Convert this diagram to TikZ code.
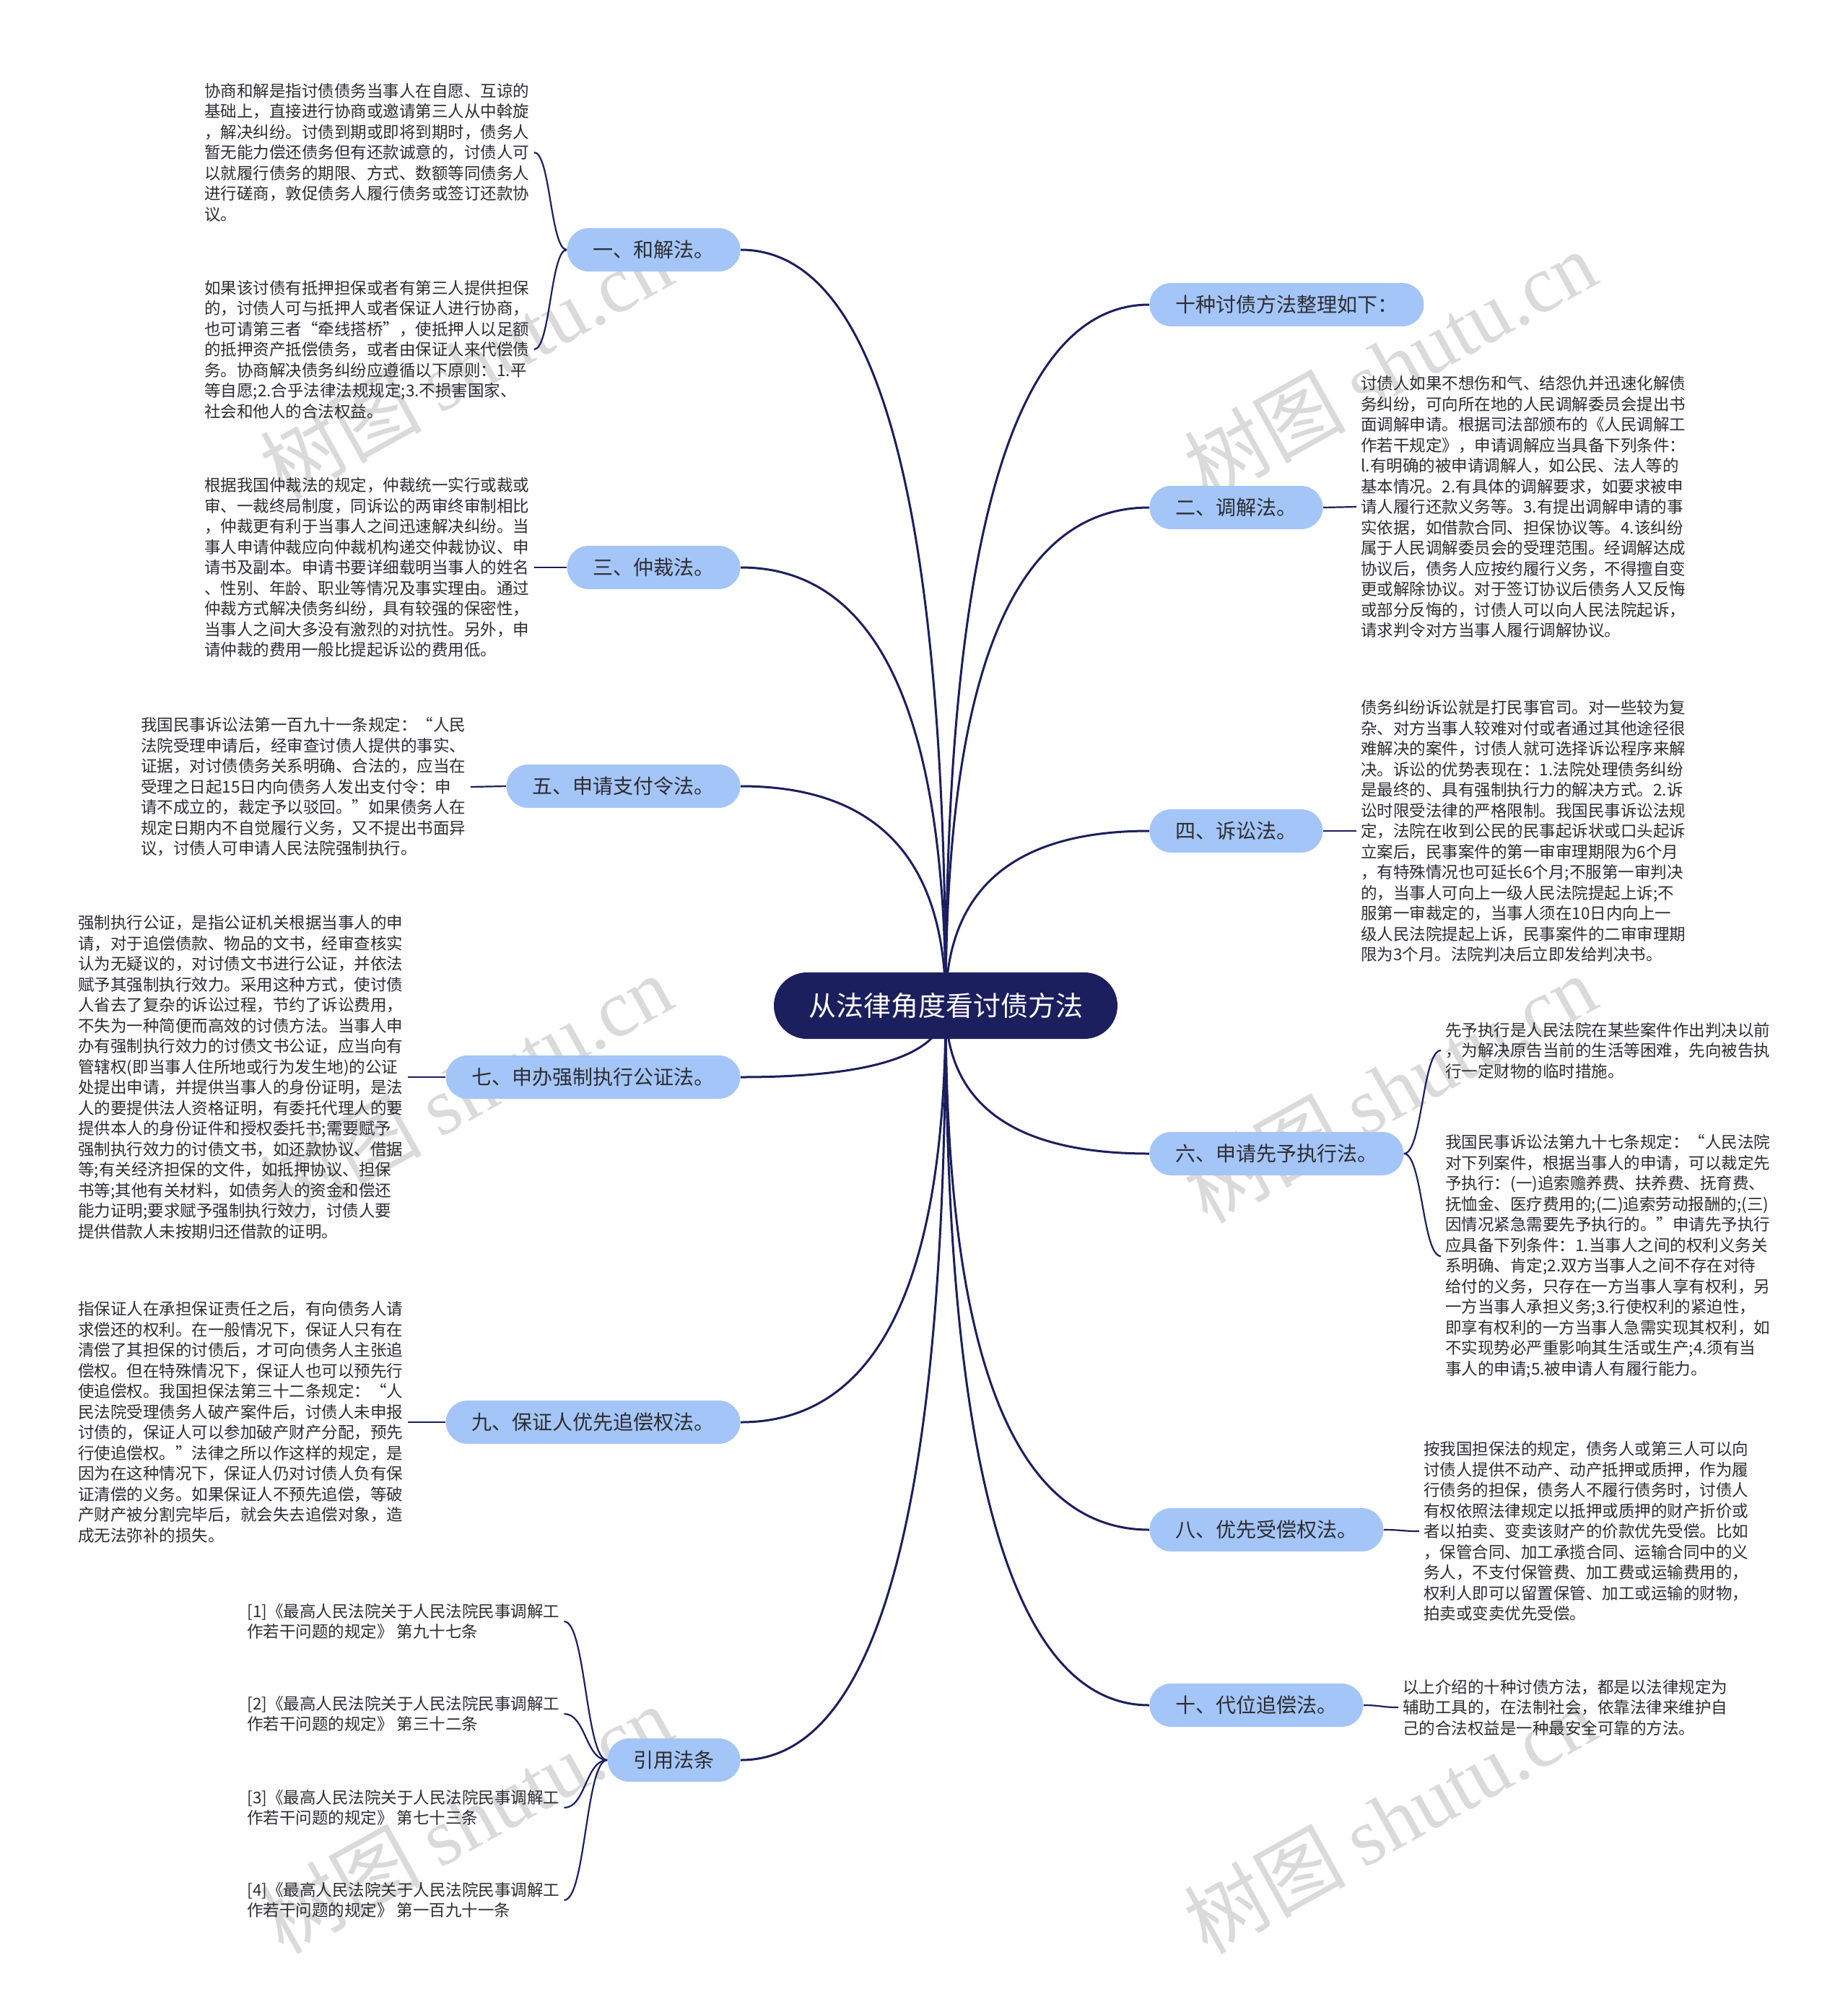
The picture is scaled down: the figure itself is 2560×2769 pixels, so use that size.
\documentclass[tikz,border=0pt]{standalone}
\usepackage{fontspec}
\setmainfont{Noto Sans CJK SC}
\newfontfamily\wmlatin{Liberation Serif}
\usetikzlibrary{calc,backgrounds}

\definecolor{navy}{RGB}{27,31,94}
\definecolor{branchblue}{RGB}{164,197,247}
\definecolor{leaftext}{RGB}{45,45,50}
\definecolor{wmgray}{RGB}{218,218,218}

\tikzset{
  root/.style={fill=navy, text=white, rounded corners=23pt, minimum width=238pt,
    minimum height=46pt, inner sep=0pt, font=\fontsize{19}{19}\selectfont},
  branch/.style={fill=branchblue, text=leaftext, rounded corners=15pt, minimum height=30pt,
    inner xsep=18pt, inner ysep=0pt, font=\fontsize{14}{14}\selectfont},
  leaf/.style={align=left, text=leaftext, inner xsep=3pt, inner ysep=0pt,
    font=\fontsize{11.25}{14.25}\selectfont},
  link/.style={draw=navy, line width=1.5pt},
  sublink/.style={draw=navy, line width=1.1pt},
  wmark/.style={text=wmgray, rotate=29, font=\fontsize{56}{56}\selectfont}
}

\begin{document}
\begin{tikzpicture}[x=0.5pt,y=-0.5pt]
\useasboundingbox (0,0) rectangle (2560,2769);

% fond et filigrane
\begin{pgfonlayer}{background}
\fill[white] (0,0) rectangle (2560,2769);
\foreach \wx in {645,1925}
  \foreach \wy in {505,1508,2520}
    \node[wmark] (wm\wx\wy) at (\wx,\wy) {树图 {\wmlatin shutu.cn}};
\end{pgfonlayer}

% centre
\node[root] (root) at (1310,1393) {从法律角度看讨债方法};

% branches gauche
\node[branch, anchor=east] (hj) at (1026,346) {一、和解法。};
\node[branch, anchor=east] (zc) at (1026,786) {三、仲裁法。};
\node[branch, anchor=east] (zfl) at (1026,1089) {五、申请支付令法。};
\node[branch, anchor=east] (gz) at (1026,1492) {七、申办强制执行公证法。};
\node[branch, anchor=east] (bz) at (1026,1970) {九、保证人优先追偿权法。};
\node[branch, anchor=east] (yy) at (1026,2438) {引用法条};

% branches droite
\node[branch, anchor=west] (zl) at (1592,422) {十种讨债方法整理如下：};
\node[branch, anchor=west] (tj) at (1592,703) {二、调解法。};
\node[branch, anchor=west] (ss) at (1592,1151) {四、诉讼法。};
\node[branch, anchor=west] (xy) at (1592,1598) {六、申请先予执行法。};
\node[branch, anchor=west] (yx) at (1592,2119) {八、优先受偿权法。};
\node[branch, anchor=west] (dw) at (1592,2362) {十、代位追偿法。};

% textes gauche
\node[leaf, anchor=west] (hj1) at (277,211) {协商和解是指讨债债务当事人在自愿、互谅的\\基础上，直接进行协商或邀请第三人从中斡旋\\，解决纠纷。讨债到期或即将到期时，债务人\\暂无能力偿还债务但有还款诚意的，讨债人可\\以就履行债务的期限、方式、数额等同债务人\\进行磋商，敦促债务人履行债务或签订还款协\\议。};
\node[leaf, anchor=west] (hj2) at (277,484) {如果该讨债有抵押担保或者有第三人提供担保\\的，讨债人可与抵押人或者保证人进行协商，\\也可请第三者“牵线搭桥”，使抵押人以足额\\的抵押资产抵偿债务，或者由保证人来代偿债\\务。协商解决债务纠纷应遵循以下原则：1.平\\等自愿;2.合乎法律法规规定;3.不损害国家、\\社会和他人的合法权益。};
\node[leaf, anchor=west] (zc1) at (277,786) {根据我国仲裁法的规定，仲裁统一实行或裁或\\审、一裁终局制度，同诉讼的两审终审制相比\\，仲裁更有利于当事人之间迅速解决纠纷。当\\事人申请仲裁应向仲裁机构递交仲裁协议、申\\请书及副本。申请书要详细载明当事人的姓名\\、性别、年龄、职业等情况及事实理由。通过\\仲裁方式解决债务纠纷，具有较强的保密性，\\当事人之间大多没有激烈的对抗性。另外，申\\请仲裁的费用一般比提起诉讼的费用低。};
\node[leaf, anchor=west] (zfl1) at (189,1090) {我国民事诉讼法第一百九十一条规定：“人民\\法院受理申请后，经审查讨债人提供的事实、\\证据，对讨债债务关系明确、合法的，应当在\\受理之日起15日内向债务人发出支付令：申\\请不成立的，裁定予以驳回。”如果债务人在\\规定日期内不自觉履行义务，又不提出书面异\\议，讨债人可申请人民法院强制执行。};
\node[leaf, anchor=west] (gz1) at (102,1492) {强制执行公证，是指公证机关根据当事人的申\\请，对于追偿债款、物品的文书，经审查核实\\认为无疑议的，对讨债文书进行公证，并依法\\赋予其强制执行效力。采用这种方式，使讨债\\人省去了复杂的诉讼过程，节约了诉讼费用，\\不失为一种简便而高效的讨债方法。当事人申\\办有强制执行效力的讨债文书公证，应当向有\\管辖权(即当事人住所地或行为发生地)的公证\\处提出申请，并提供当事人的身份证明，是法\\人的要提供法人资格证明，有委托代理人的要\\提供本人的身份证件和授权委托书;需要赋予\\强制执行效力的讨债文书，如还款协议、借据\\等;有关经济担保的文件，如抵押协议、担保\\书等;其他有关材料，如债务人的资金和偿还\\能力证明;要求赋予强制执行效力，讨债人要\\提供借款人未按期归还借款的证明。};
\node[leaf, anchor=west] (bz1) at (102,1970) {指保证人在承担保证责任之后，有向债务人请\\求偿还的权利。在一般情况下，保证人只有在\\清偿了其担保的讨债后，才可向债务人主张追\\偿权。但在特殊情况下，保证人也可以预先行\\使追偿权。我国担保法第三十二条规定：“人\\民法院受理债务人破产案件后，讨债人未申报\\讨债的，保证人可以参加破产财产分配，预先\\行使追偿权。”法律之所以作这样的规定，是\\因为在这种情况下，保证人仍对讨债人负有保\\证清偿的义务。如果保证人不预先追偿，等破\\产财产被分割完毕后，就会失去追偿对象，造\\成无法弥补的损失。};
\node[leaf, anchor=west] (yy1) at (336,2246) {[1]《最高人民法院关于人民法院民事调解工\\作若干问题的规定》 第九十七条};
\node[leaf, anchor=west] (yy2) at (336,2374) {[2]《最高人民法院关于人民法院民事调解工\\作若干问题的规定》 第三十二条};
\node[leaf, anchor=west] (yy3) at (336,2504) {[3]《最高人民法院关于人民法院民事调解工\\作若干问题的规定》 第七十三条};
\node[leaf, anchor=west] (yy4) at (336,2632) {[4]《最高人民法院关于人民法院民事调解工\\作若干问题的规定》 第一百九十一条};

% textes droite
\node[leaf, anchor=west] (tj1) at (1879,702) {讨债人如果不想伤和气、结怨仇并迅速化解债\\务纠纷，可向所在地的人民调解委员会提出书\\面调解申请。根据司法部颁布的《人民调解工\\作若干规定》，申请调解应当具备下列条件：\\l.有明确的被申请调解人，如公民、法人等的\\基本情况。2.有具体的调解要求，如要求被申\\请人履行还款义务等。3.有提出调解申请的事\\实依据，如借款合同、担保协议等。4.该纠纷\\属于人民调解委员会的受理范围。经调解达成\\协议后，债务人应按约履行义务，不得擅自变\\更或解除协议。对于签订协议后债务人又反悔\\或部分反悔的，讨债人可以向人民法院起诉，\\请求判令对方当事人履行调解协议。};
\node[leaf, anchor=west] (ss1) at (1879,1151) {债务纠纷诉讼就是打民事官司。对一些较为复\\杂、对方当事人较难对付或者通过其他途径很\\难解决的案件，讨债人就可选择诉讼程序来解\\决。诉讼的优势表现在：1.法院处理债务纠纷\\是最终的、具有强制执行力的解决方式。2.诉\\讼时限受法律的严格限制。我国民事诉讼法规\\定，法院在收到公民的民事起诉状或口头起诉\\立案后，民事案件的第一审审理期限为6个月\\，有特殊情况也可延长6个月;不服第一审判决\\的，当事人可向上一级人民法院提起上诉;不\\服第一审裁定的，当事人须在10日内向上一\\级人民法院提起上诉，民事案件的二审审理期\\限为3个月。法院判决后立即发给判决书。};
\node[leaf, anchor=west] (xy1) at (1996,1455) {先予执行是人民法院在某些案件作出判决以前\\，为解决原告当前的生活等困难，先向被告执\\行一定财物的临时措施。};
\node[leaf, anchor=west] (xy2) at (1996,1740) {我国民事诉讼法第九十七条规定：“人民法院\\对下列案件，根据当事人的申请，可以裁定先\\予执行：(一)追索赡养费、扶养费、抚育费、\\抚恤金、医疗费用的;(二)追索劳动报酬的;(三)\\因情况紧急需要先予执行的。”申请先予执行\\应具备下列条件：1.当事人之间的权利义务关\\系明确、肯定;2.双方当事人之间不存在对待\\给付的义务，只存在一方当事人享有权利，另\\一方当事人承担义务;3.行使权利的紧迫性，\\即享有权利的一方当事人急需实现其权利，如\\不实现势必严重影响其生活或生产;4.须有当\\事人的申请;5.被申请人有履行能力。};
\node[leaf, anchor=west] (yx1) at (1966,2121) {按我国担保法的规定，债务人或第三人可以向\\讨债人提供不动产、动产抵押或质押，作为履\\行债务的担保，债务人不履行债务时，讨债人\\有权依照法律规定以抵押或质押的财产折价或\\者以拍卖、变卖该财产的价款优先受偿。比如\\，保管合同、加工承揽合同、运输合同中的义\\务人，不支付保管费、加工费或运输费用的，\\权利人即可以留置保管、加工或运输的财物，\\拍卖或变卖优先受偿。};
\node[leaf, anchor=west] (dw1) at (1937,2365) {以上介绍的十种讨债方法，都是以法律规定为\\辅助工具的，在法制社会，依靠法律来维护自\\己的合法权益是一种最安全可靠的方法。};

% liens
\begin{pgfonlayer}{background}
\foreach \b in {hj,zc,zfl,gz,bz,yy} {
  \coordinate (k) at (root.center |- \b.east);
  \draw[link] (root.center) .. controls ($(root.center)!0.667!(k)$) and ($(\b.east)!0.667!(k)$) .. (\b.east);
}
\foreach \b in {zl,tj,ss,xy,yx,dw} {
  \coordinate (k) at (root.center |- \b.west);
  \draw[link] (root.center) .. controls ($(root.center)!0.667!(k)$) and ($(\b.west)!0.667!(k)$) .. (\b.west);
}
\foreach \b/\l in {hj/hj1,hj/hj2,zc/zc1,zfl/zfl1,gz/gz1,bz/bz1,yy/yy1,yy/yy2,yy/yy3,yy/yy4}
  \draw[sublink] let \p1=(\b.west), \p2=(\l.east) in
    (\p1) .. controls ({(\x1+\x2)/2},\y1) and ({(\x1+\x2)/2},\y2) .. (\p2);
\foreach \b/\l in {tj/tj1,ss/ss1,xy/xy1,xy/xy2,yx/yx1,dw/dw1}
  \draw[sublink] let \p1=(\b.east), \p2=(\l.west) in
    (\p1) .. controls ({(\x1+\x2)/2},\y1) and ({(\x1+\x2)/2},\y2) .. (\p2);
\end{pgfonlayer}

\end{tikzpicture}
\end{document}
